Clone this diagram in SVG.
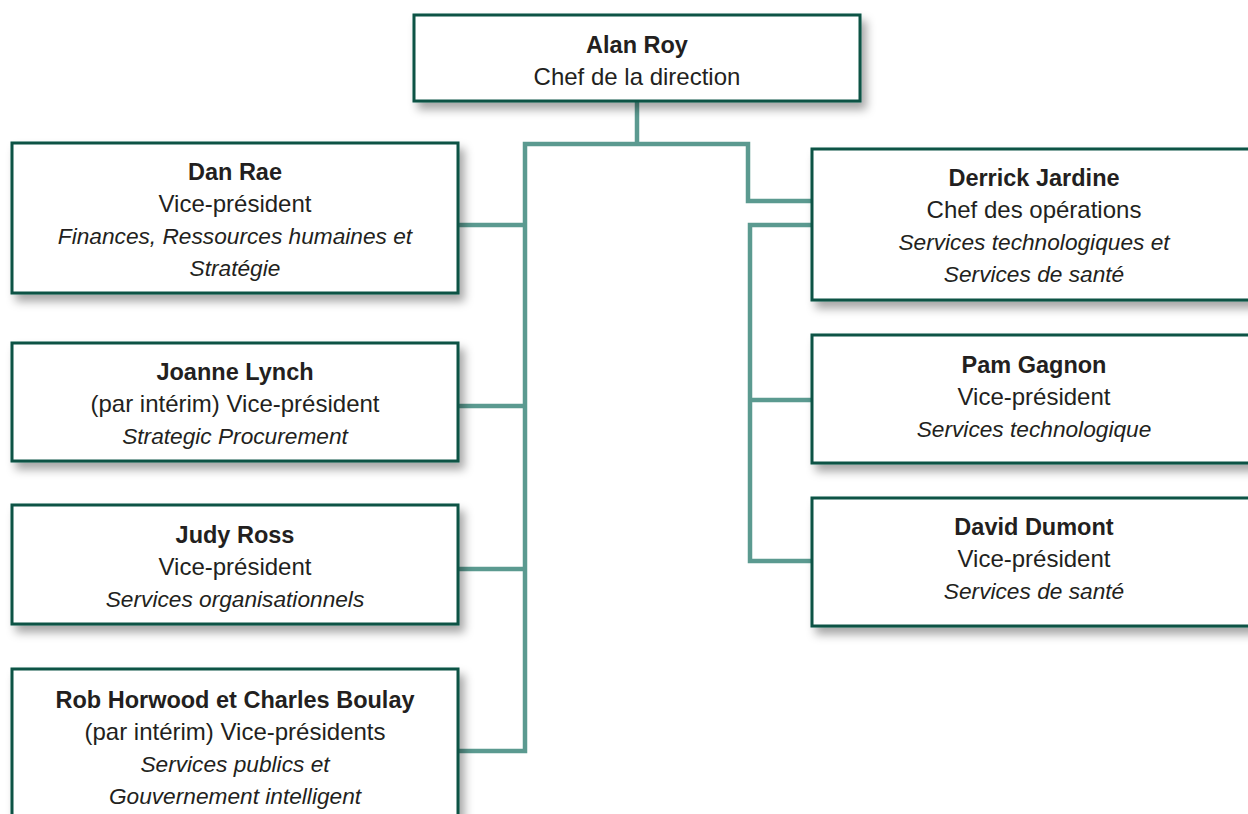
<svg xmlns="http://www.w3.org/2000/svg" width="1248" height="814" viewBox="0 0 1248 814">
  <defs>
    <filter id="shadow" x="-10%" y="-10%" width="130%" height="140%">
      <feDropShadow dx="5" dy="7" stdDeviation="5" flood-color="#000" flood-opacity="0.35"/>
    </filter>
    <style>
      .box { fill: #ffffff; stroke: #0b5345; stroke-width: 3; filter: url(#shadow); }
      .conn { fill: none; stroke: #5b9a90; stroke-width: 4.5; stroke-linejoin: miter; stroke-linecap: butt; }
      text { font-family: "Liberation Sans", Arial, sans-serif; fill: #231f20; text-anchor: middle; }
      .b { font-weight: bold; font-size: 23.5px; }
      .r { font-size: 24px; }
      .i { font-style: italic; font-size: 22.7px; }
    </style>
  </defs>
  <rect width="1248" height="814" fill="#ffffff"/>

  <g id="connectors">
    <path class="conn" d="M637 101 V144"/>
    <path class="conn" d="M458 225 H525 M458 406 H525 M458 569 H525 M458 751 H525 V144 H748 V201 H812"/>
    <path class="conn" d="M812 225 H750 V561 H812 M750 400 H812"/>
  </g>

  <g id="alan-roy">
    <rect class="box" x="414" y="15" width="446" height="86"/>
    <text x="637" y="53" class="b">Alan Roy</text>
    <text x="637" y="85" class="r">Chef de la direction</text>
  </g>

  <g id="dan-rae">
    <rect class="box" x="12" y="143" width="446" height="150"/>
    <text x="235" y="180" class="b">Dan Rae</text>
    <text x="235" y="212" class="r">Vice-président</text>
    <text x="235" y="244" class="i">Finances, Ressources humaines et</text>
    <text x="235" y="276" class="i">Stratégie</text>
  </g>

  <g id="joanne-lynch">
    <rect class="box" x="12" y="343" width="446" height="118"/>
    <text x="235" y="380" class="b">Joanne Lynch</text>
    <text x="235" y="412" class="r">(par intérim) Vice-président</text>
    <text x="235" y="444" class="i">Strategic Procurement</text>
  </g>

  <g id="judy-ross">
    <rect class="box" x="12" y="505" width="446" height="119"/>
    <text x="235" y="543" class="b">Judy Ross</text>
    <text x="235" y="575" class="r">Vice-président</text>
    <text x="235" y="607" class="i">Services organisationnels</text>
  </g>

  <g id="rob-horwood-charles-boulay">
    <rect class="box" x="12" y="669" width="446" height="170"/>
    <text x="235" y="708" class="b">Rob Horwood et Charles Boulay</text>
    <text x="235" y="740" class="r">(par intérim) Vice-présidents</text>
    <text x="235" y="772" class="i">Services publics et</text>
    <text x="235" y="804" class="i">Gouvernement intelligent</text>
  </g>

  <g id="derrick-jardine">
    <rect class="box" x="812" y="149" width="446" height="151"/>
    <text x="1034" y="186" class="b">Derrick Jardine</text>
    <text x="1034" y="218" class="r">Chef des opérations</text>
    <text x="1034" y="250" class="i">Services technologiques et</text>
    <text x="1034" y="282" class="i">Services de santé</text>
  </g>

  <g id="pam-gagnon">
    <rect class="box" x="812" y="335" width="446" height="128"/>
    <text x="1034" y="373" class="b">Pam Gagnon</text>
    <text x="1034" y="405" class="r">Vice-président</text>
    <text x="1034" y="437" class="i">Services technologique</text>
  </g>

  <g id="david-dumont">
    <rect class="box" x="812" y="498" width="446" height="128"/>
    <text x="1034" y="535" class="b">David Dumont</text>
    <text x="1034" y="567" class="r">Vice-président</text>
    <text x="1034" y="599" class="i">Services de santé</text>
  </g>
</svg>
